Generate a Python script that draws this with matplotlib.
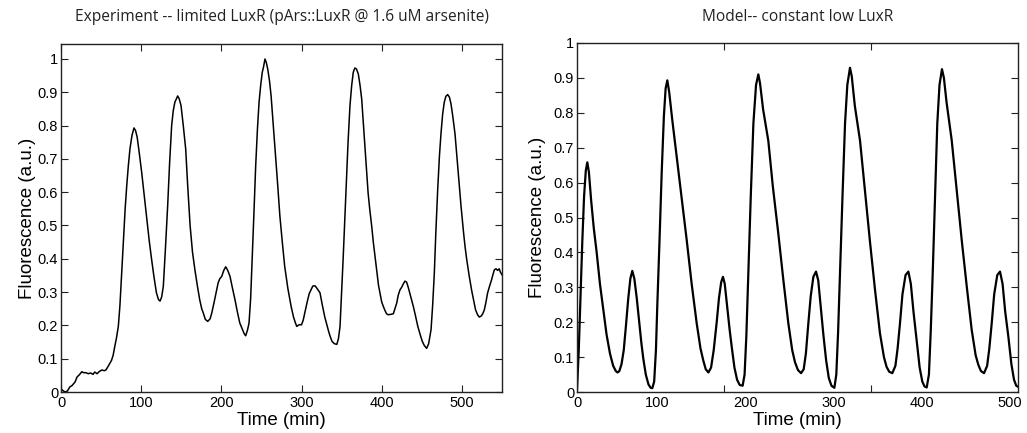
import numpy as np
import matplotlib
matplotlib.use("Agg")
import matplotlib.pyplot as plt
from matplotlib.ticker import FixedLocator
from matplotlib.transforms import ScaledTranslation

# ---------------- data ----------------
exp_t = [0, 2, 5, 8, 11, 14, 17.5, 20, 23, 26, 28, 31, 34, 37, 40, 42, 45, 48, 51, 54, 56, 59, 63, 65, 67, 69,
         71.5, 73.5, 75.7, 78, 80, 82, 84, 86, 88.5, 91, 93, 95, 97.5, 100.6, 104, 107, 110, 113, 116, 119,
         121.5, 123.5, 125.5, 127.6, 130, 133, 135.5, 138, 140, 142, 145.5, 147.5, 149.7, 152.5, 155.5, 158,
         161, 164, 167, 170, 173, 175.5, 177.5, 180, 183, 186, 188, 191, 194, 196, 198, 200.4, 203, 205.4,
         208, 210.8, 214, 217, 220, 223, 226, 228.5, 230.3, 232.5, 234.5, 236.5, 238.6, 240.5, 242.8, 245,
         247, 249, 251, 252.5, 254.4, 256, 257.8, 260, 262, 264.5, 267, 270, 273, 276, 279, 283, 287, 290,
         292, 294, 297, 300, 302, 304, 307, 309.5, 311.8, 314, 316.8, 319, 321, 323, 326, 329, 331, 334,
         336, 338, 341, 344, 346, 348, 350, 352, 354, 356, 358, 360.4, 362.5, 364.5, 366.5, 368.5, 370.8,
         373, 375, 377, 379, 381, 383, 385, 387.5, 389.5, 391.6, 394, 396, 397.9, 400, 402, 404, 406, 408,
         411, 414.5, 416.5, 418.7, 420.5, 422.8, 425, 427, 429, 431, 433, 435, 437, 439.4, 442, 445, 448,
         450.6, 453, 456, 458.5, 461.5, 463.5, 465.6, 467.5, 469.8, 472, 474, 476, 478, 480, 482.3, 484.5,
         486.4, 488.5, 491.4, 494, 496.5, 498.9, 502, 504, 506, 509, 512, 515, 517, 519.5, 521.7, 524, 526,
         528, 530, 532, 534.5, 537, 539, 540.5, 542.5, 544.6, 546.5, 548, 550]
exp_v = [0.01, 0.005, 0.0, 0.003, 0.015, 0.02, 0.03, 0.045, 0.052, 0.061, 0.058, 0.058, 0.055, 0.057, 0.053,
         0.06, 0.055, 0.062, 0.066, 0.064, 0.066, 0.078, 0.095, 0.11, 0.136, 0.16, 0.197, 0.26, 0.358, 0.46,
         0.55, 0.62, 0.68, 0.73, 0.77, 0.793, 0.785, 0.765, 0.72, 0.66, 0.585, 0.518, 0.455, 0.398, 0.345,
         0.298, 0.278, 0.273, 0.285, 0.317, 0.42, 0.558, 0.69, 0.8, 0.845, 0.87, 0.889, 0.88, 0.86, 0.80,
         0.73, 0.62, 0.50, 0.42, 0.367, 0.32, 0.277, 0.25, 0.237, 0.218, 0.212, 0.22, 0.237, 0.27, 0.305,
         0.328, 0.34, 0.347, 0.365, 0.376, 0.365, 0.347, 0.31, 0.277, 0.24, 0.207, 0.19, 0.175, 0.169, 0.185,
         0.207, 0.28, 0.407, 0.53, 0.679, 0.79, 0.87, 0.92, 0.96, 0.975, 1.0, 0.99, 0.97, 0.935, 0.89, 0.81,
         0.73, 0.63, 0.528, 0.45, 0.377, 0.31, 0.257, 0.225, 0.21, 0.197, 0.202, 0.202, 0.215, 0.237, 0.27,
         0.295, 0.307, 0.318, 0.319, 0.312, 0.305, 0.298, 0.26, 0.225, 0.207, 0.18, 0.165, 0.152, 0.145,
         0.143, 0.16, 0.197, 0.3, 0.407, 0.52, 0.64, 0.75, 0.86, 0.92, 0.96, 0.973, 0.97, 0.955, 0.92, 0.88,
         0.81, 0.739, 0.67, 0.598, 0.55, 0.498, 0.45, 0.407, 0.36, 0.32, 0.297, 0.27, 0.257, 0.245, 0.235,
         0.232, 0.233, 0.235, 0.25, 0.267, 0.29, 0.307, 0.315, 0.325, 0.333, 0.33, 0.315, 0.297, 0.28, 0.257,
         0.23, 0.197, 0.172, 0.152, 0.14, 0.131, 0.145, 0.187, 0.26, 0.357, 0.48, 0.608, 0.71, 0.779, 0.835,
         0.87, 0.888, 0.893, 0.885, 0.865, 0.83, 0.775, 0.7, 0.625, 0.558, 0.48, 0.435, 0.398, 0.35, 0.307,
         0.27, 0.247, 0.232, 0.225, 0.228, 0.235, 0.247, 0.27, 0.297, 0.318, 0.337, 0.355, 0.367, 0.37,
         0.365, 0.37, 0.36, 0.352]

mod_t = [0, 2, 4, 6, 8, 10, 11.7, 13.5, 16, 19, 22.3, 26, 29.9, 33.5, 37.4, 41, 44, 46, 48, 50.5, 53, 55.5,
         58, 60.5, 62.7, 65, 67.7, 70.5, 73, 75.2, 78, 81, 83.5, 85.4, 87.5, 89.5, 91, 93.5, 96, 98.5, 100.5,
         102.4, 104.5, 108, 113, 118, 124.4, 130, 135.7, 140, 143.2, 146, 149, 152, 155, 158.4, 161, 163.5,
         165.5, 167.5, 170.5, 173, 175.4, 178.5, 181.5, 184.5, 187.8, 190, 192, 194.2, 197, 200, 203, 205.6,
         207.5, 211, 216.9, 222, 228.2, 234, 239.6, 244, 247.2, 250.5, 254, 257, 259.5, 262.3, 265, 268, 271,
         273.5, 276.5, 279.3, 282.5, 285.5, 288.5, 291.8, 294, 296, 298.2, 301, 303.9, 306.5, 309.5, 311.5,
         315, 320.9, 326, 332.2, 338, 343.5, 348, 351, 354, 357.5, 361, 363.5, 366.2, 369, 372.5, 375.7,
         378.5, 381.5, 385.1, 388.5, 391.5, 394, 396.5, 399, 401, 403.3, 406, 408.5, 411, 413.8, 416, 419,
         424.8, 430, 436.2, 442, 447.5, 452, 455, 458, 461.5, 465, 467.5, 470.2, 473, 476.5, 479.6, 482.5,
         485.5, 489, 492.5, 495.5, 498, 500]
mod_v = [0.005, 0.12, 0.28, 0.43, 0.56, 0.635, 0.658, 0.63, 0.55, 0.47, 0.40, 0.31, 0.235, 0.165, 0.11,
         0.075, 0.06, 0.056, 0.06, 0.08, 0.12, 0.19, 0.265, 0.325, 0.347, 0.325, 0.27, 0.20, 0.14, 0.095,
         0.05, 0.022, 0.012, 0.011, 0.03, 0.12, 0.245, 0.43, 0.627, 0.79, 0.87, 0.893, 0.86, 0.78, 0.675,
         0.57, 0.435, 0.31, 0.197, 0.125, 0.09, 0.065, 0.056, 0.07, 0.12, 0.2, 0.27, 0.315, 0.33, 0.31,
         0.24, 0.18, 0.13, 0.07, 0.035, 0.02, 0.018, 0.05, 0.16, 0.34, 0.56, 0.77, 0.88, 0.91, 0.885, 0.81,
         0.72, 0.59, 0.455, 0.32, 0.197, 0.12, 0.085, 0.063, 0.054, 0.065, 0.11, 0.197, 0.275, 0.33, 0.345,
         0.32, 0.24, 0.165, 0.09, 0.04, 0.018, 0.012, 0.05, 0.17, 0.34, 0.56, 0.77, 0.88, 0.929, 0.905, 0.82,
         0.72, 0.59, 0.43, 0.29, 0.168, 0.1, 0.072, 0.058, 0.054, 0.075, 0.125, 0.197, 0.28, 0.335, 0.345,
         0.31, 0.23, 0.149, 0.07, 0.03, 0.016, 0.013, 0.05, 0.17, 0.34, 0.56, 0.77, 0.88, 0.925, 0.9, 0.83,
         0.722, 0.59, 0.435, 0.3, 0.178, 0.105, 0.078, 0.06, 0.054, 0.075, 0.125, 0.197, 0.28, 0.335, 0.345,
         0.31, 0.23, 0.16, 0.08, 0.035, 0.018, 0.015]

x_labels = ["0", "100", "200", "300", "400", "500"]
y_ticks = [0, 0.1, 0.2, 0.3, 0.4, 0.5, 0.6, 0.7, 0.8, 0.9, 1.0]
y_labels = ["0", "0.1", "0.2", "0.3", "0.4", "0.5", "0.6", "0.7", "0.8", "0.9", "1"]
title_left = "Experiment -- limited LuxR (pArs::LuxR @ 1.6 uM arsenite)"
title_right = "Model-- constant low LuxR"

# ---------------- figure ----------------
W, H = 1027, 433
fig = plt.figure(figsize=(W / 100, H / 100), dpi=100)
plt.rcParams['font.family'] = ['Liberation Sans', 'DejaVu Sans']

def px_axes(x0, x1, ytop, ybot):
    return fig.add_axes([x0 / W, 1 - ybot / H, (x1 - x0) / W, (ybot - ytop) / H])

axL = px_axes(61, 502, 44, 392)
axR = px_axes(577, 1018, 43, 392)

tick_kw = dict(direction='in', length=5, width=0.8, color='#222222', labelsize=10.5,
               top=True, right=True, labelcolor='black')

for ax in (axL, axR):
    for s in ax.spines.values():
        s.set_linewidth(1.0)
        s.set_color('#222222')
    ax.set_yticks(y_ticks)
    ax.set_yticklabels(y_labels)
    ax.tick_params(axis='y', which='major', pad=2, **tick_kw)
    ax.set_ylabel("Fluorescence (a.u.)", fontsize=13.5)
    ax.set_xlabel("Time (min)", fontsize=13.5)

# left: experiment
axL.plot(exp_t, exp_v, color='black', lw=1.1)
axL.set_xlim(0, 550)
axL.set_ylim(0, 1.045)
axL.set_xticks([0, 100, 200, 300, 400, 500])
axL.set_xticklabels(x_labels)
axL.tick_params(axis='x', which='major', pad=3, **tick_kw)
axL.yaxis.set_label_coords(-0.057, 0.5)
axL.xaxis.set_label_coords(0.5, -0.058)

# right: model
axR.plot(mod_t, mod_v, color='black', lw=1.6)
axR.set_xlim(0, 500)
axR.set_ylim(0, 1.0)
axR.set_xticks([0, 100, 200, 300, 400, 500])
axR.set_xticklabels(x_labels)
axR.xaxis.set_minor_locator(FixedLocator([500 / 3, 1000 / 3]))
kw_major = dict(tick_kw)
kw_major['length'] = 0
axR.tick_params(axis='x', which='major', pad=3, **kw_major)
axR.tick_params(axis='x', which='minor', direction='in', length=5, width=0.8,
                color='#222222', top=True, bottom=True)
# the reference's labels sit a little left of their ticks
shift = ScaledTranslation(-8 / 100, 0, fig.dpi_scale_trans)
for lab in axR.get_xticklabels()[1:]:
    lab.set_transform(lab.get_transform() + shift)
axR.yaxis.set_label_coords(-0.070, 0.5)
axR.xaxis.set_label_coords(0.5, -0.058)

fig.text(282 / W, 1 - 17 / H, title_left, ha='center', va='center', fontsize=11.2,
         color='#222222', family=['Open Sans', 'DejaVu Sans'])
fig.text(798 / W, 1 - 17 / H, title_right, ha='center', va='center', fontsize=11.2,
         color='#222222', family=['Open Sans', 'DejaVu Sans'])

fig.savefig("out.png", dpi=100)
